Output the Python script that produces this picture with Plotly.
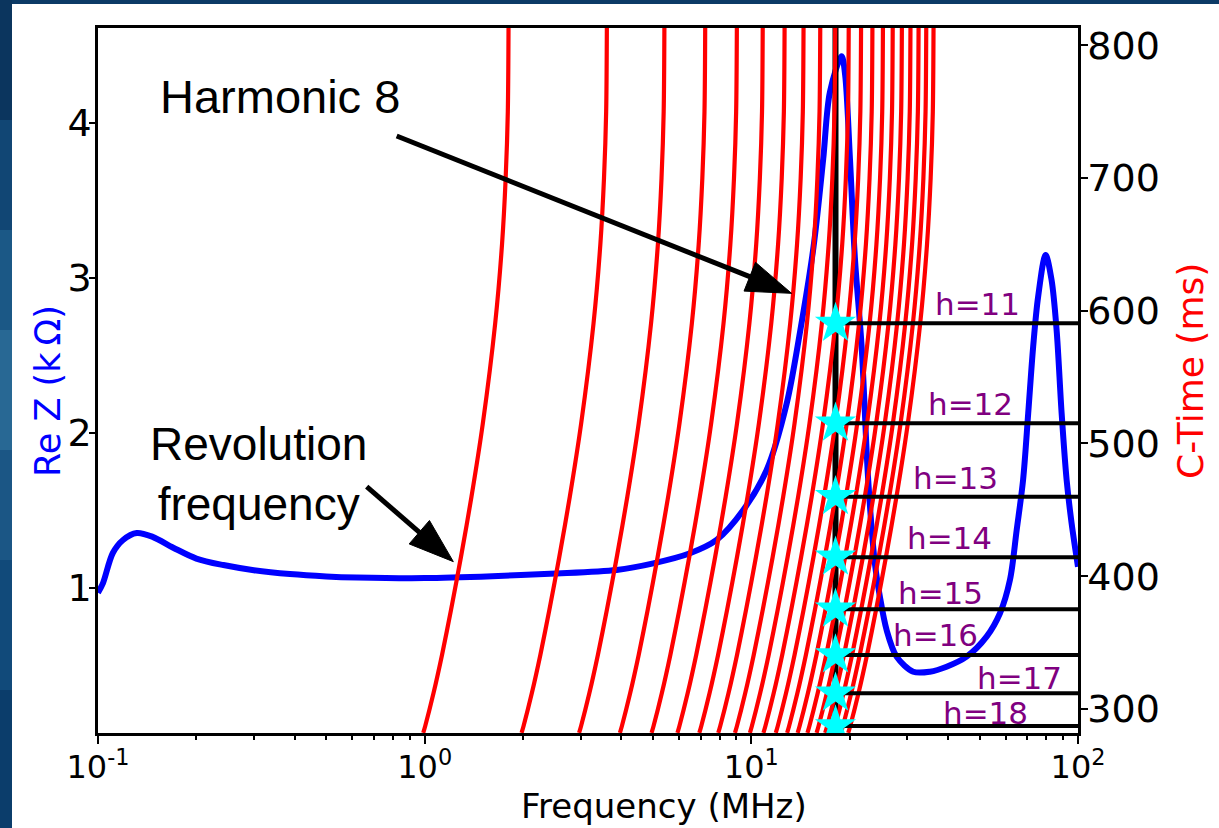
import numpy as np
import plotly.graph_objects as go

# ---------------- data ----------------
# Real part of impedance vs frequency
rez_freq_mhz = [0.1, 0.1035, 0.111, 0.1193, 0.1314, 0.147, 0.17, 0.2, 0.242, 0.3, 0.387,
                0.5, 0.62, 1.0, 1.61, 2.42, 3.87, 5.01, 6.49, 7.83, 9.45, 11.14, 12.83, 14.09,
                15.5, 16.6, 17.4, 18.9, 19.37, 20.04, 20.75, 21.76, 22.79, 23.89, 24.75,
                25.95, 27.84, 31.3, 35.2, 39.6, 45.6, 52.5, 57.7, 61.9, 64.9, 67.9, 70.4,
                72.9, 75.5, 79.6, 83.0, 86.0, 89.1, 92.3, 95.6, 100.0]
rez_kohm = [0.97, 1.03, 1.226, 1.31, 1.355, 1.33, 1.26, 1.19, 1.148, 1.115, 1.09,
            1.075, 1.068, 1.064, 1.076, 1.092, 1.116, 1.159, 1.224, 1.31, 1.503, 1.761, 2.19, 2.65,
            3.2, 3.77, 4.2, 4.43, 4.31, 3.77, 3.13, 2.557, 1.697, 1.159, 0.944,
            0.729, 0.557, 0.46, 0.46, 0.492, 0.557, 0.686, 0.837, 1.052, 1.374, 1.697, 2.127,
            2.557, 2.879, 3.148, 2.987, 2.665, 2.127, 1.697, 1.417, 1.137]

# Revolution frequency along the cycle
ctime_ms = [282.0, 287.2, 311.8, 340.7, 375.1, 414.3, 459.9, 515.2, 590.5, 650.0, 700.0, 750.0, 813.0]
frev_mhz = [0.99, 1.004, 1.064, 1.130, 1.205, 1.291, 1.391, 1.507, 1.644, 1.725, 1.77, 1.797, 1.806]
harmonics = list(range(1, 21))

resonance_mhz = 18.1
star_harmonics = [11, 12, 13, 14, 15, 16, 17, 18]
star_ms = [590.5, 515.2, 459.9, 414.3, 375.1, 340.7, 311.8, 287.2]

x_tick_vals = [0.1, 1, 10, 100]
x_tick_text = ["10<sup>-1</sup>", "10<sup>0</sup>", "10<sup>1</sup>", "10<sup>2</sup>"]
x_minor_vals = [m * d for d in (0.1, 1, 10) for m in range(2, 10)]
y_tick_vals = [1, 2, 3, 4]
y2_tick_vals = [300, 400, 500, 600, 700, 800]

# ---------------- layout constants ----------------
W, H = 1219, 828
M_L, M_R, M_T, M_B = 98, 141, 28, 95
PW, PH = W - M_L - M_R, H - M_T - M_B
X_LOG = [-1.0, 2.0]
Y_RANGE = [0.0645, 4.613]
Y2_RANGE = [281.9, 813.0]

# label positions
hlabel_x_mhz = [49.4, 47.0, 42.3, 40.3, 38.0, 36.7, 66.4, 52.2]
hlabel_ms = [605.1, 529.8, 474.0, 428.8, 387.4, 355.7, 323.4, 297.0]

DEJAVU = "DejaVu Sans"
ARIAL = "Liberation Sans"


def pap(xpx, ypx):
    """pixel position in the page -> paper coordinates"""
    return (xpx - M_L) / PW, (H - M_B - ypx) / PH


fig = go.Figure()

# Blue impedance curve (left axis)
fig.add_trace(go.Scatter(x=rez_freq_mhz, y=rez_kohm, mode="lines",
                         line=dict(color="#0000ff", width=6, shape="spline", smoothing=0.9),
                         yaxis="y", showlegend=False, hoverinfo="skip"))

# Black vertical resonance line (right axis)
fig.add_trace(go.Scatter(x=[resonance_mhz, resonance_mhz], y=Y2_RANGE, mode="lines",
                         line=dict(color="black", width=6), yaxis="y2",
                         showlegend=False, hoverinfo="skip"))

# Red harmonic curves
for h in harmonics:
    fig.add_trace(go.Scatter(x=[h * f for f in frev_mhz], y=ctime_ms, mode="lines",
                             line=dict(color="#ff0000", width=4.2, shape="spline", smoothing=0.8),
                             yaxis="y2", showlegend=False, hoverinfo="skip"))

# Black horizontal lines at crossing points
for t in star_ms:
    fig.add_trace(go.Scatter(x=[resonance_mhz, 100], y=[t, t], mode="lines",
                             line=dict(color="black", width=4), yaxis="y2",
                             showlegend=False, hoverinfo="skip"))

# Cyan stars
fig.add_trace(go.Scatter(x=[resonance_mhz] * len(star_ms), y=star_ms, mode="markers",
                         marker=dict(symbol="star", size=31, color="#00ffff", line=dict(width=0)),
                         yaxis="y2", showlegend=False, hoverinfo="skip"))

annotations = []
for h, xm, tm in zip(star_harmonics, hlabel_x_mhz, hlabel_ms):
    annotations.append(dict(x=np.log10(xm), y=tm, xref="x", yref="y2", text=f"h={h}",
                            showarrow=False, font=dict(family=DEJAVU, size=31, color="#800080"),
                            xanchor="center", yanchor="middle"))

annotations.append(dict(x=np.log10(0.3606), y=4.174, xref="x", yref="y", text="Harmonic 8",
                        showarrow=False, font=dict(family=ARIAL, size=47, color="black"),
                        xanchor="center", yanchor="middle"))
annotations.append(dict(x=np.log10(0.311), y=1.735, xref="x", yref="y",
                        text="Revolution<br>frequency", showarrow=False,
                        font=dict(family=ARIAL, size=46, color="black"),
                        xanchor="center", yanchor="middle", align="center"))

# axis titles as free annotations (placed like the reference)
ax_, ay_ = pap(664, 806)
annotations.append(dict(x=ax_, y=ay_, xref="paper", yref="paper", text="Frequency (MHz)",
                        showarrow=False, font=dict(family=DEJAVU, size=34, color="black"),
                        xanchor="center", yanchor="middle"))
ax_, ay_ = pap(48, 391)
annotations.append(dict(x=ax_, y=ay_, xref="paper", yref="paper", text="Re Z (k\u2009\u03a9)",
                        showarrow=False, textangle=-90,
                        font=dict(family=DEJAVU, size=35, color="#0000ff"),
                        xanchor="center", yanchor="middle"))
ax_, ay_ = pap(1190, 371)
annotations.append(dict(x=ax_, y=ay_, xref="paper", yref="paper", text="C-Time (ms)",
                        showarrow=False, textangle=-90,
                        font=dict(family=DEJAVU, size=36, color="#ff0000"),
                        xanchor="center", yanchor="middle"))


def to_px(f, z):
    px = (np.log10(f) - X_LOG[0]) / (X_LOG[1] - X_LOG[0]) * PW
    py = (z - Y_RANGE[0]) / (Y_RANGE[1] - Y_RANGE[0]) * PH
    return px, py


def arrow_shapes(tail, tip, head_len=45, head_w=31, lw=5):
    tx, ty = to_px(*tail)
    hx, hy = to_px(*tip)
    dx, dy = hx - tx, hy - ty
    L = np.hypot(dx, dy)
    ux, uy = dx / L, dy / L
    bx, by = hx - ux * head_len, hy - uy * head_len
    nx, ny = -uy, ux
    c1 = (bx + nx * head_w / 2, by + ny * head_w / 2)
    c2 = (bx - nx * head_w / 2, by - ny * head_w / 2)
    P = lambda x, y: (x / PW, y / PH)
    line = dict(type="line", xref="paper", yref="paper",
                x0=P(tx, ty)[0], y0=P(tx, ty)[1],
                x1=P(bx + ux * 4, by + uy * 4)[0], y1=P(bx + ux * 4, by + uy * 4)[1],
                line=dict(color="black", width=lw), layer="above")
    pts = [P(*c1), P(hx, hy), P(*c2)]
    path = "M{:.5f},{:.5f} L{:.5f},{:.5f} L{:.5f},{:.5f} Z".format(*pts[0], *pts[1], *pts[2])
    tri = dict(type="path", xref="paper", yref="paper", path=path,
               fillcolor="black", line=dict(color="black", width=1), layer="above")
    return [line, tri]


shapes = []
# slide background: white panel with dark blue frame
x0, y0 = pap(12, 828)
x1, y1 = pap(1219, 4)
shapes.append(dict(type="rect", xref="paper", yref="paper", x0=x0, y0=y0, x1=x1, y1=y1,
                   fillcolor="white", line=dict(width=0), layer="below"))
# left strip gradient approximation
strip = [(0, 120, "#0b355e"), (120, 230, "#114674"), (230, 330, "#1b5886"),
         (330, 450, "#286894"), (450, 560, "#1b5685"), (560, 690, "#114a7a"), (690, 828, "#0b3d6b")]
for a, b, c in strip:
    sx0, sy0 = pap(0, b)
    sx1, sy1 = pap(12, a)
    shapes.append(dict(type="rect", xref="paper", yref="paper", x0=sx0, y0=sy0, x1=sx1, y1=sy1,
                       fillcolor=c, line=dict(width=0), layer="below"))

shapes += arrow_shapes((0.821, 3.916), (13.28, 2.901))
shapes += arrow_shapes((0.6645, 1.654), (1.224, 1.17))

fig.update_layout(
    width=W, height=H,
    margin=dict(l=M_L, r=M_R, t=M_T, b=M_B, pad=0),
    paper_bgcolor="#0c3a66",
    plot_bgcolor="white",
    showlegend=False,
    font=dict(family=DEJAVU, color="black"),
    xaxis=dict(type="log", range=X_LOG, tickmode="array", tickvals=x_tick_vals,
               ticktext=x_tick_text, ticks="outside", ticklen=8, tickwidth=2,
               tickcolor="black", showline=True, linecolor="black", linewidth=2.5,
               mirror=True, showgrid=False, zeroline=False, ticklabelstandoff=-4,
               tickfont=dict(family=DEJAVU, size=32, color="black"),
               minor=dict(tickmode="array", tickvals=x_minor_vals, ticks="outside",
                          ticklen=4, tickwidth=1.5, tickcolor="black", showgrid=False)),
    yaxis=dict(range=Y_RANGE, tickmode="array", tickvals=y_tick_vals, ticks="outside",
               ticklen=6, tickwidth=2, tickcolor="black", showline=True, linecolor="black",
               linewidth=2.5, showgrid=False, zeroline=False, ticklabelstandoff=-10,
               tickfont=dict(family=DEJAVU, size=38, color="black")),
    yaxis2=dict(range=Y2_RANGE, overlaying="y", side="right", tickmode="array",
                tickvals=y2_tick_vals, ticks="outside", ticklen=7, tickwidth=2,
                tickcolor="black", showline=True, linecolor="black", linewidth=2.5,
                showgrid=False, zeroline=False, ticklabelstandoff=-8,
                tickfont=dict(family=DEJAVU, size=38, color="black")),
    annotations=annotations,
    shapes=shapes,
)

fig.write_html("out.html")
